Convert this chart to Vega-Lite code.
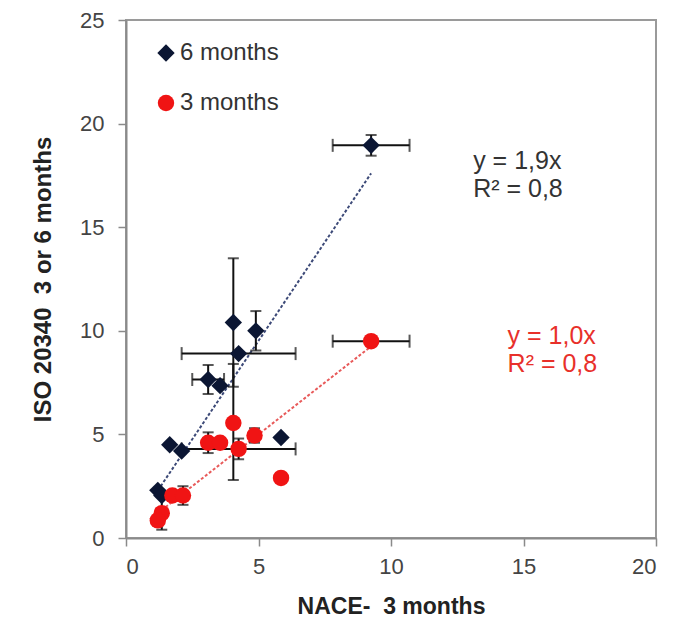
{
  "$schema": "https://vega.github.io/schema/vega-lite/v6.json",
  "autosize": "none",
  "width": 530,
  "height": 518,
  "padding": {"left": 126, "top": 20, "right": 18, "bottom": 90},
  "background": "white",
  "config": {
    "font": "Liberation Sans",
    "view": {"stroke": "#9a9a9a", "strokeWidth": 2},
    "axis": {
      "grid": false,
      "domainColor": "#8a8a8a",
      "domainWidth": 2,
      "tickColor": "#8a8a8a",
      "tickWidth": 1.5,
      "tickSize": 8,
      "labelFont": "Liberation Sans",
      "labelFontSize": 22,
      "labelColor": "#444444",
      "titleFont": "Liberation Sans",
      "titleFontWeight": "bold",
      "titleColor": "#222222"
    },
    "legend": {
      "orient": "none",
      "legendX": 28,
      "legendY": 21,
      "labelFontSize": 24,
      "labelColor": "#333333",
      "labelFont": "Liberation Sans",
      "symbolSize": 100,
      "rowPadding": 26,
      "labelOffset": 2,
      "symbolStrokeWidth": 0
    }
  },
  "datasets": {
    "pts": [
      {"series": "6 months", "x": 9.25, "y": 18.95, "xlo": 7.8, "xhi": 10.7, "ylo": 18.45, "yhi": 19.45},
      {"series": "6 months", "x": 4.05, "y": 10.4, "ylo": 7.3, "yhi": 13.5},
      {"series": "6 months", "x": 4.9, "y": 10.0, "ylo": 9.05, "yhi": 10.95},
      {"series": "6 months", "x": 4.25, "y": 8.9, "xlo": 2.1, "xhi": 6.4},
      {"series": "6 months", "x": 3.1, "y": 7.65, "xlo": 2.5, "xhi": 3.7, "ylo": 6.95, "yhi": 8.35},
      {"series": "6 months", "x": 3.55, "y": 7.35},
      {"series": "6 months", "x": 5.85, "y": 4.85},
      {"series": "6 months", "x": 1.65, "y": 4.5},
      {"series": "6 months", "x": 2.1, "y": 4.2},
      {"series": "6 months", "x": 1.2, "y": 2.3},
      {"series": "6 months", "x": 1.35, "y": 2.05},
      {"series": "3 months", "x": 9.25, "y": 9.5, "xlo": 7.8, "xhi": 10.7},
      {"series": "3 months", "x": 4.05, "y": 5.55, "ylo": 2.8, "yhi": 8.4},
      {"series": "3 months", "x": 4.85, "y": 4.95, "ylo": 4.6, "yhi": 5.3},
      {"series": "3 months", "x": 3.1, "y": 4.6, "ylo": 4.1, "yhi": 5.1},
      {"series": "3 months", "x": 3.55, "y": 4.6},
      {"series": "3 months", "x": 4.25, "y": 4.3, "xlo": 2.1, "xhi": 6.4, "ylo": 3.8, "yhi": 4.8},
      {"series": "3 months", "x": 5.85, "y": 2.9},
      {"series": "3 months", "x": 1.75, "y": 2.05},
      {"series": "3 months", "x": 2.15, "y": 2.05, "ylo": 1.6, "yhi": 2.5},
      {"series": "3 months", "x": 1.35, "y": 1.2, "ylo": 0.4, "yhi": 2.0},
      {"series": "3 months", "x": 1.2, "y": 0.85}
    ],
    "trend": [
      {"series": "6 months", "x": 1.1, "y": 2.1},
      {"series": "6 months", "x": 9.25, "y": 17.6},
      {"series": "3 months", "x": 0.9, "y": 0.9},
      {"series": "3 months", "x": 9.2, "y": 9.2}
    ],
    "notes": [
      {"group": "6 months", "x": 13.1, "y": 18.2, "text": "y = 1,9x"},
      {"group": "6 months", "x": 13.1, "y": 16.85, "text": "R² = 0,8"},
      {"group": "3 months", "x": 14.4, "y": 9.75, "text": "y = 1,0x"},
      {"group": "3 months", "x": 14.4, "y": 8.4, "text": "R² = 0,8"}
    ]
  },
  "layer": [
    {
      "data": {"name": "trend"},
      "transform": [{"filter": "datum.series === '6 months'"}],
      "mark": {"type": "line", "color": "#3d4a78", "strokeWidth": 2, "strokeDash": [3, 2]},
      "encoding": {
        "x": {"field": "x", "type": "quantitative", "scale": {"domain": [0, 20], "nice": false, "zero": false}, "axis": {"values": [0, 5, 10, 15, 20], "title": "NACE-\u00a0 3 months", "titleFontSize": 23, "labelPadding": 10, "titlePadding": 18}},
        "y": {"field": "y", "type": "quantitative", "scale": {"domain": [0, 25], "nice": false, "zero": false}, "axis": {"values": [0, 5, 10, 15, 20, 25], "title": "ISO 20340\u00a0 3 or 6 months", "titleFontSize": 24, "labelPadding": 14, "titlePadding": 24}}
      }
    },
    {
      "data": {"name": "trend"},
      "transform": [{"filter": "datum.series === '3 months'"}],
      "mark": {"type": "line", "color": "#e85a5a", "strokeWidth": 2, "strokeDash": [3, 2]},
      "encoding": {
        "x": {"field": "x", "type": "quantitative"},
        "y": {"field": "y", "type": "quantitative"}
      }
    },
    {
      "data": {"name": "pts"},
      "transform": [{"filter": "isValid(datum.ylo)"}],
      "mark": {"type": "rule", "color": "#111111", "strokeWidth": 2},
      "encoding": {
        "x": {"field": "x", "type": "quantitative"},
        "y": {"field": "ylo", "type": "quantitative"},
        "y2": {"field": "yhi"}
      }
    },
    {
      "data": {"name": "pts"},
      "transform": [{"filter": "isValid(datum.ylo)"}],
      "mark": {"type": "tick", "orient": "horizontal", "color": "#111111", "thickness": 2, "size": 11},
      "encoding": {
        "x": {"field": "x", "type": "quantitative"},
        "y": {"field": "ylo", "type": "quantitative"}
      }
    },
    {
      "data": {"name": "pts"},
      "transform": [{"filter": "isValid(datum.yhi)"}],
      "mark": {"type": "tick", "orient": "horizontal", "color": "#111111", "thickness": 2, "size": 11},
      "encoding": {
        "x": {"field": "x", "type": "quantitative"},
        "y": {"field": "yhi", "type": "quantitative"}
      }
    },
    {
      "data": {"name": "pts"},
      "transform": [{"filter": "isValid(datum.xlo)"}],
      "mark": {"type": "rule", "color": "#111111", "strokeWidth": 2},
      "encoding": {
        "y": {"field": "y", "type": "quantitative"},
        "x": {"field": "xlo", "type": "quantitative"},
        "x2": {"field": "xhi"}
      }
    },
    {
      "data": {"name": "pts"},
      "transform": [{"filter": "isValid(datum.xlo)"}],
      "mark": {"type": "tick", "orient": "vertical", "color": "#111111", "thickness": 2, "size": 13},
      "encoding": {
        "x": {"field": "xlo", "type": "quantitative"},
        "y": {"field": "y", "type": "quantitative"}
      }
    },
    {
      "data": {"name": "pts"},
      "transform": [{"filter": "isValid(datum.xhi)"}],
      "mark": {"type": "tick", "orient": "vertical", "color": "#111111", "thickness": 2, "size": 13},
      "encoding": {
        "x": {"field": "xhi", "type": "quantitative"},
        "y": {"field": "y", "type": "quantitative"}
      }
    },
    {
      "data": {"name": "pts"},
      "mark": {"type": "point", "filled": true, "opacity": 1},
      "encoding": {
        "x": {"field": "x", "type": "quantitative"},
        "y": {"field": "y", "type": "quantitative"},
        "color": {"field": "series", "type": "nominal", "scale": {"domain": ["6 months", "3 months"], "range": ["#0b1633", "#f01414"]}, "legend": {"title": null}},
        "shape": {"field": "series", "type": "nominal", "scale": {"domain": ["6 months", "3 months"], "range": ["diamond", "circle"]}, "legend": {"title": null}},
        "size": {"field": "series", "type": "nominal", "scale": {"domain": ["6 months", "3 months"], "range": [300, 270]}, "legend": null}
      }
    },
    {
      "data": {"name": "notes"},
      "transform": [{"filter": "datum.group === '6 months'"}],
      "mark": {"type": "text", "align": "left", "baseline": "middle", "fontSize": 25, "color": "#333333", "font": "Liberation Sans"},
      "encoding": {
        "x": {"field": "x", "type": "quantitative"},
        "y": {"field": "y", "type": "quantitative"},
        "text": {"field": "text"}
      }
    },
    {
      "data": {"name": "notes"},
      "transform": [{"filter": "datum.group === '3 months'"}],
      "mark": {"type": "text", "align": "left", "baseline": "middle", "fontSize": 25, "color": "#e8302a", "font": "Liberation Sans"},
      "encoding": {
        "x": {"field": "x", "type": "quantitative"},
        "y": {"field": "y", "type": "quantitative"},
        "text": {"field": "text"}
      }
    }
  ]
}
